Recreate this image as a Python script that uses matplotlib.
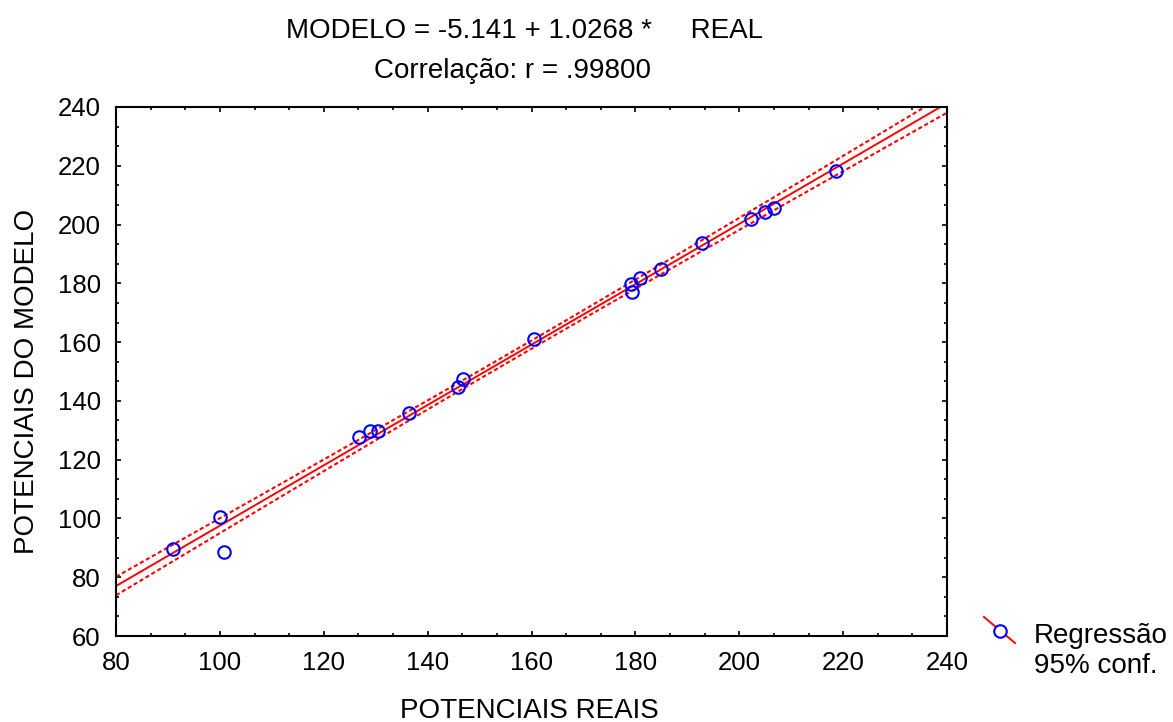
import numpy as np
import matplotlib.pyplot as plt
from matplotlib.lines import Line2D
from matplotlib.ticker import MultipleLocator, AutoMinorLocator

plt.rcParams['font.family'] = ['Liberation Sans', 'DejaVu Sans']

# dados
real = [91.0, 100.0, 100.8, 126.8, 128.9, 130.5, 136.5, 145.9, 146.9, 160.5,
        179.1, 179.3, 180.9, 184.9, 192.8, 202.2, 205.0, 206.7, 218.6]
modelo = [89.6, 100.5, 88.6, 127.8, 129.9, 129.8, 136.0, 144.8, 147.6, 161.1,
          179.7, 177.2, 181.7, 184.8, 193.6, 201.9, 204.4, 205.5, 218.1]
a, b = -5.141, 1.0268
t_crit = 2.110  # t(0.975, 17)

x = np.array(real)
y = np.array(modelo)
n = len(x)
res = y - (a + b * x)
s = np.sqrt(np.sum(res ** 2) / (n - 2))
sxx = np.sum((x - x.mean()) ** 2)

xx = np.linspace(80, 240, 200)
yy = a + b * xx
half = t_crit * s * np.sqrt(1 / n + (xx - x.mean()) ** 2 / sxx)

W, H = 1173, 722
fig = plt.figure(figsize=(W / 100, H / 100), dpi=100)
ax = fig.add_axes([116 / W, 1 - 636 / H, (947 - 116) / W, (636 - 107) / H])

dots = (0, (2.0, 1.3))
ax.plot(xx, yy, color='red', lw=1.4)
ax.plot(xx, yy + half, color='red', lw=1.5, ls=dots)
ax.plot(xx, yy - half, color='red', lw=1.5, ls=dots)
ax.plot(x, y, 'o', mfc='none', mec='blue', ms=9, mew=1.5, clip_on=False)

ax.set_xlim(80, 240)
ax.set_ylim(60, 240)
ax.xaxis.set_major_locator(MultipleLocator(20))
ax.yaxis.set_major_locator(MultipleLocator(20))
ax.xaxis.set_minor_locator(AutoMinorLocator(3))
ax.yaxis.set_minor_locator(AutoMinorLocator(3))
ax.tick_params(which='both', direction='in', top=True, right=True, width=1.2)
ax.tick_params(which='major', length=3.5, labelsize=18.5, pad=11)
ax.tick_params(which='minor', length=2.5)
for sp in ax.spines.values():
    sp.set_linewidth(1.5)

ax.set_xlabel('POTENCIAIS REAIS', fontsize=20)
ax.set_ylabel('POTENCIAIS DO MODELO', fontsize=20)
ax.xaxis.set_label_coords(0.498, -0.1175)
ax.yaxis.set_label_coords(-0.0916, 0.481)

fig.text(524 / W, 1 - 31 / H, 'MODELO = -5.141 + 1.0268 *     REAL',
         fontsize=20, ha='center', va='center')
fig.text(512 / W, 1 - 71 / H, 'Correlação: r = .99800',
         fontsize=20, ha='center', va='center')

# legenda
fig.add_artist(Line2D([984 / W, 1015 / W], [1 - 617 / H, 1 - 643 / H],
                      transform=fig.transFigure, color='red', lw=1.4))
fig.add_artist(Line2D([999.5 / W], [1 - 631 / H], transform=fig.transFigure,
                      marker='o', mfc='white', mec='blue', ms=9, mew=1.5))
fig.text(1034 / W, 1 - 643 / H, 'Regressão', fontsize=20, ha='left', va='baseline')
fig.text(1034 / W, 1 - 673 / H, '95% conf.', fontsize=20, ha='left', va='baseline')

fig.savefig('out.png', dpi=100)
